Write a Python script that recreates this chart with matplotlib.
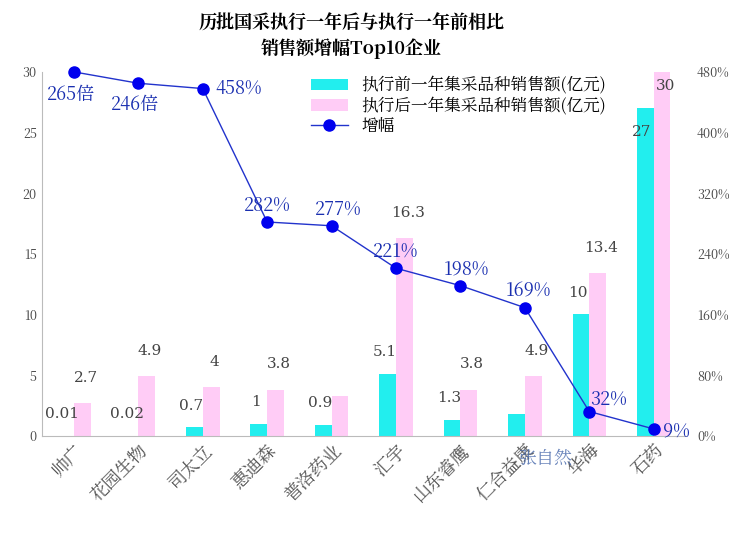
import matplotlib
matplotlib.use("Agg")
import matplotlib.pyplot as plt
from matplotlib import font_manager as fm
import numpy as np

cjk_name = None
for f in fm.fontManager.ttflist:
    if "CJK" in f.name and "SC" in f.name:
        cjk_name = f.name
        break
if cjk_name is None:
    for f in fm.fontManager.ttflist:
        if "CJK" in f.name:
            cjk_name = f.name
            break
plt.rcParams['font.family'] = [cjk_name or 'Noto Sans CJK SC', 'DejaVu Sans']

companies = ["帅广", "花园生物", "司太立", "惠迪森", "普洛药业", "汇宇", "山东睿鹰", "仁合益康", "华海", "石药"]
before = [0.01, 0.02, 0.7, 1, 0.9, 5.1, 1.3, 1.8, 10, 27]
after = [2.7, 4.9, 4, 3.8, 3.3, 16.3, 3.8, 4.9, 13.4, 30]
before_labels = ["0.01", "0.02", "0.7", "1", "0.9", "5.1", "1.3", "", "10", "27"]
after_labels = ["2.7", "4.9", "4", "3.8", "", "16.3", "3.8", "4.9", "13.4", "30"]
growth = [480, 465, 458, 282, 277, 221, 198, 169, 32, 9]
growth_labels = ["265倍", "246倍", "458%", "282%", "277%", "221%", "198%", "169%", "32%", "9%"]

fig = plt.figure(figsize=(7.32, 5.53), dpi=100)
ax = fig.add_axes([0.057, 0.212, 0.88, 0.658])
x = np.arange(len(companies))
w = 0.26
ax.bar(x - w/2, before, w, color="#22eeee", label="执行前一年集采品种销售额(亿元)")
ax.bar(x + w/2, after, w, color="#ffccf6", label="执行后一年集采品种销售额(亿元)")
for i in range(len(x)):
    if before_labels[i]:
        y = before[i] + 1.2
        if i == 9:
            y = before[i] - 2.5
        ax.text(x[i] - w/2 - 0.05, y, before_labels[i], ha="center", va="bottom", fontsize=11, color="#444444", family="DejaVu Serif")
    if after_labels[i]:
        y = after[i] + 1.5
        if i == 9:
            y = 28.3
        ax.text(x[i] + w/2 + 0.05, y, after_labels[i], ha="center", va="bottom", fontsize=11, color="#444444", family="DejaVu Serif")
ax.set_ylim(0, 30)
ax.set_xlim(-0.5, 9.5)
ax.set_yticks(range(0, 31, 5))
ax.set_xticks(x)
ax.set_xticklabels(companies, rotation=45, ha="right", rotation_mode="anchor", fontsize=13, color="#555555")
ax.tick_params(axis="y", labelsize=9, length=0, colors="#444444")
ax.tick_params(axis="x", length=0)
for s in ["top", "right"]:
    ax.spines[s].set_visible(False)
ax.spines["left"].set_color("#bbbbbb")
ax.spines["bottom"].set_color("#bbbbbb")

ax2 = ax.twinx()
ax2.plot(x, growth, color="#2233cc", lw=1, marker="o", ms=8, mfc="#0000ee", mec="#0000ee", label="增幅", clip_on=False)
ax2.set_ylim(0, 480)
ax2.set_yticks(range(0, 481, 80))
ax2.set_yticklabels([f"{v}%" for v in range(0, 481, 80)])
ax2.tick_params(axis="y", labelsize=9, length=0, colors="#444444", pad=8)
for s in ["top", "left", "bottom", "right"]:
    ax2.spines[s].set_visible(False)
offs = [(-0.05, -30), (-0.05, -28), (0.55, 0), (0, 22), (0.1, 22), (0, 22), (0.1, 22), (0.05, 22), (0.3, 16), (0.35, -3)]
for i in range(len(x)):
    dx, dy = offs[i]
    ax2.text(x[i] + dx, growth[i] + dy, growth_labels[i], ha="center", va="center", fontsize=13, color="#1a2fb0")

h1, l1 = ax.get_legend_handles_labels()
h2, l2 = ax2.get_legend_handles_labels()
ax.legend(h1 + h2, l1 + l2, loc="upper left", bbox_to_anchor=(0.4, 1.02), frameon=False, fontsize=12, handlelength=2.2, labelspacing=0.15, borderpad=0.2)

fig.text(0.48, 0.975, "历批国采执行一年后与执行一年前相比", ha="center", va="top", fontsize=13, fontweight="bold")
fig.text(0.48, 0.93, "销售额增幅Top10企业", ha="center", va="top", fontsize=13, fontweight="bold")
fig.text(0.745, 0.17, "张自然", ha="center", va="center", fontsize=13, color="#4466aa", alpha=0.8)
fig.savefig("out.png", dpi=100)
